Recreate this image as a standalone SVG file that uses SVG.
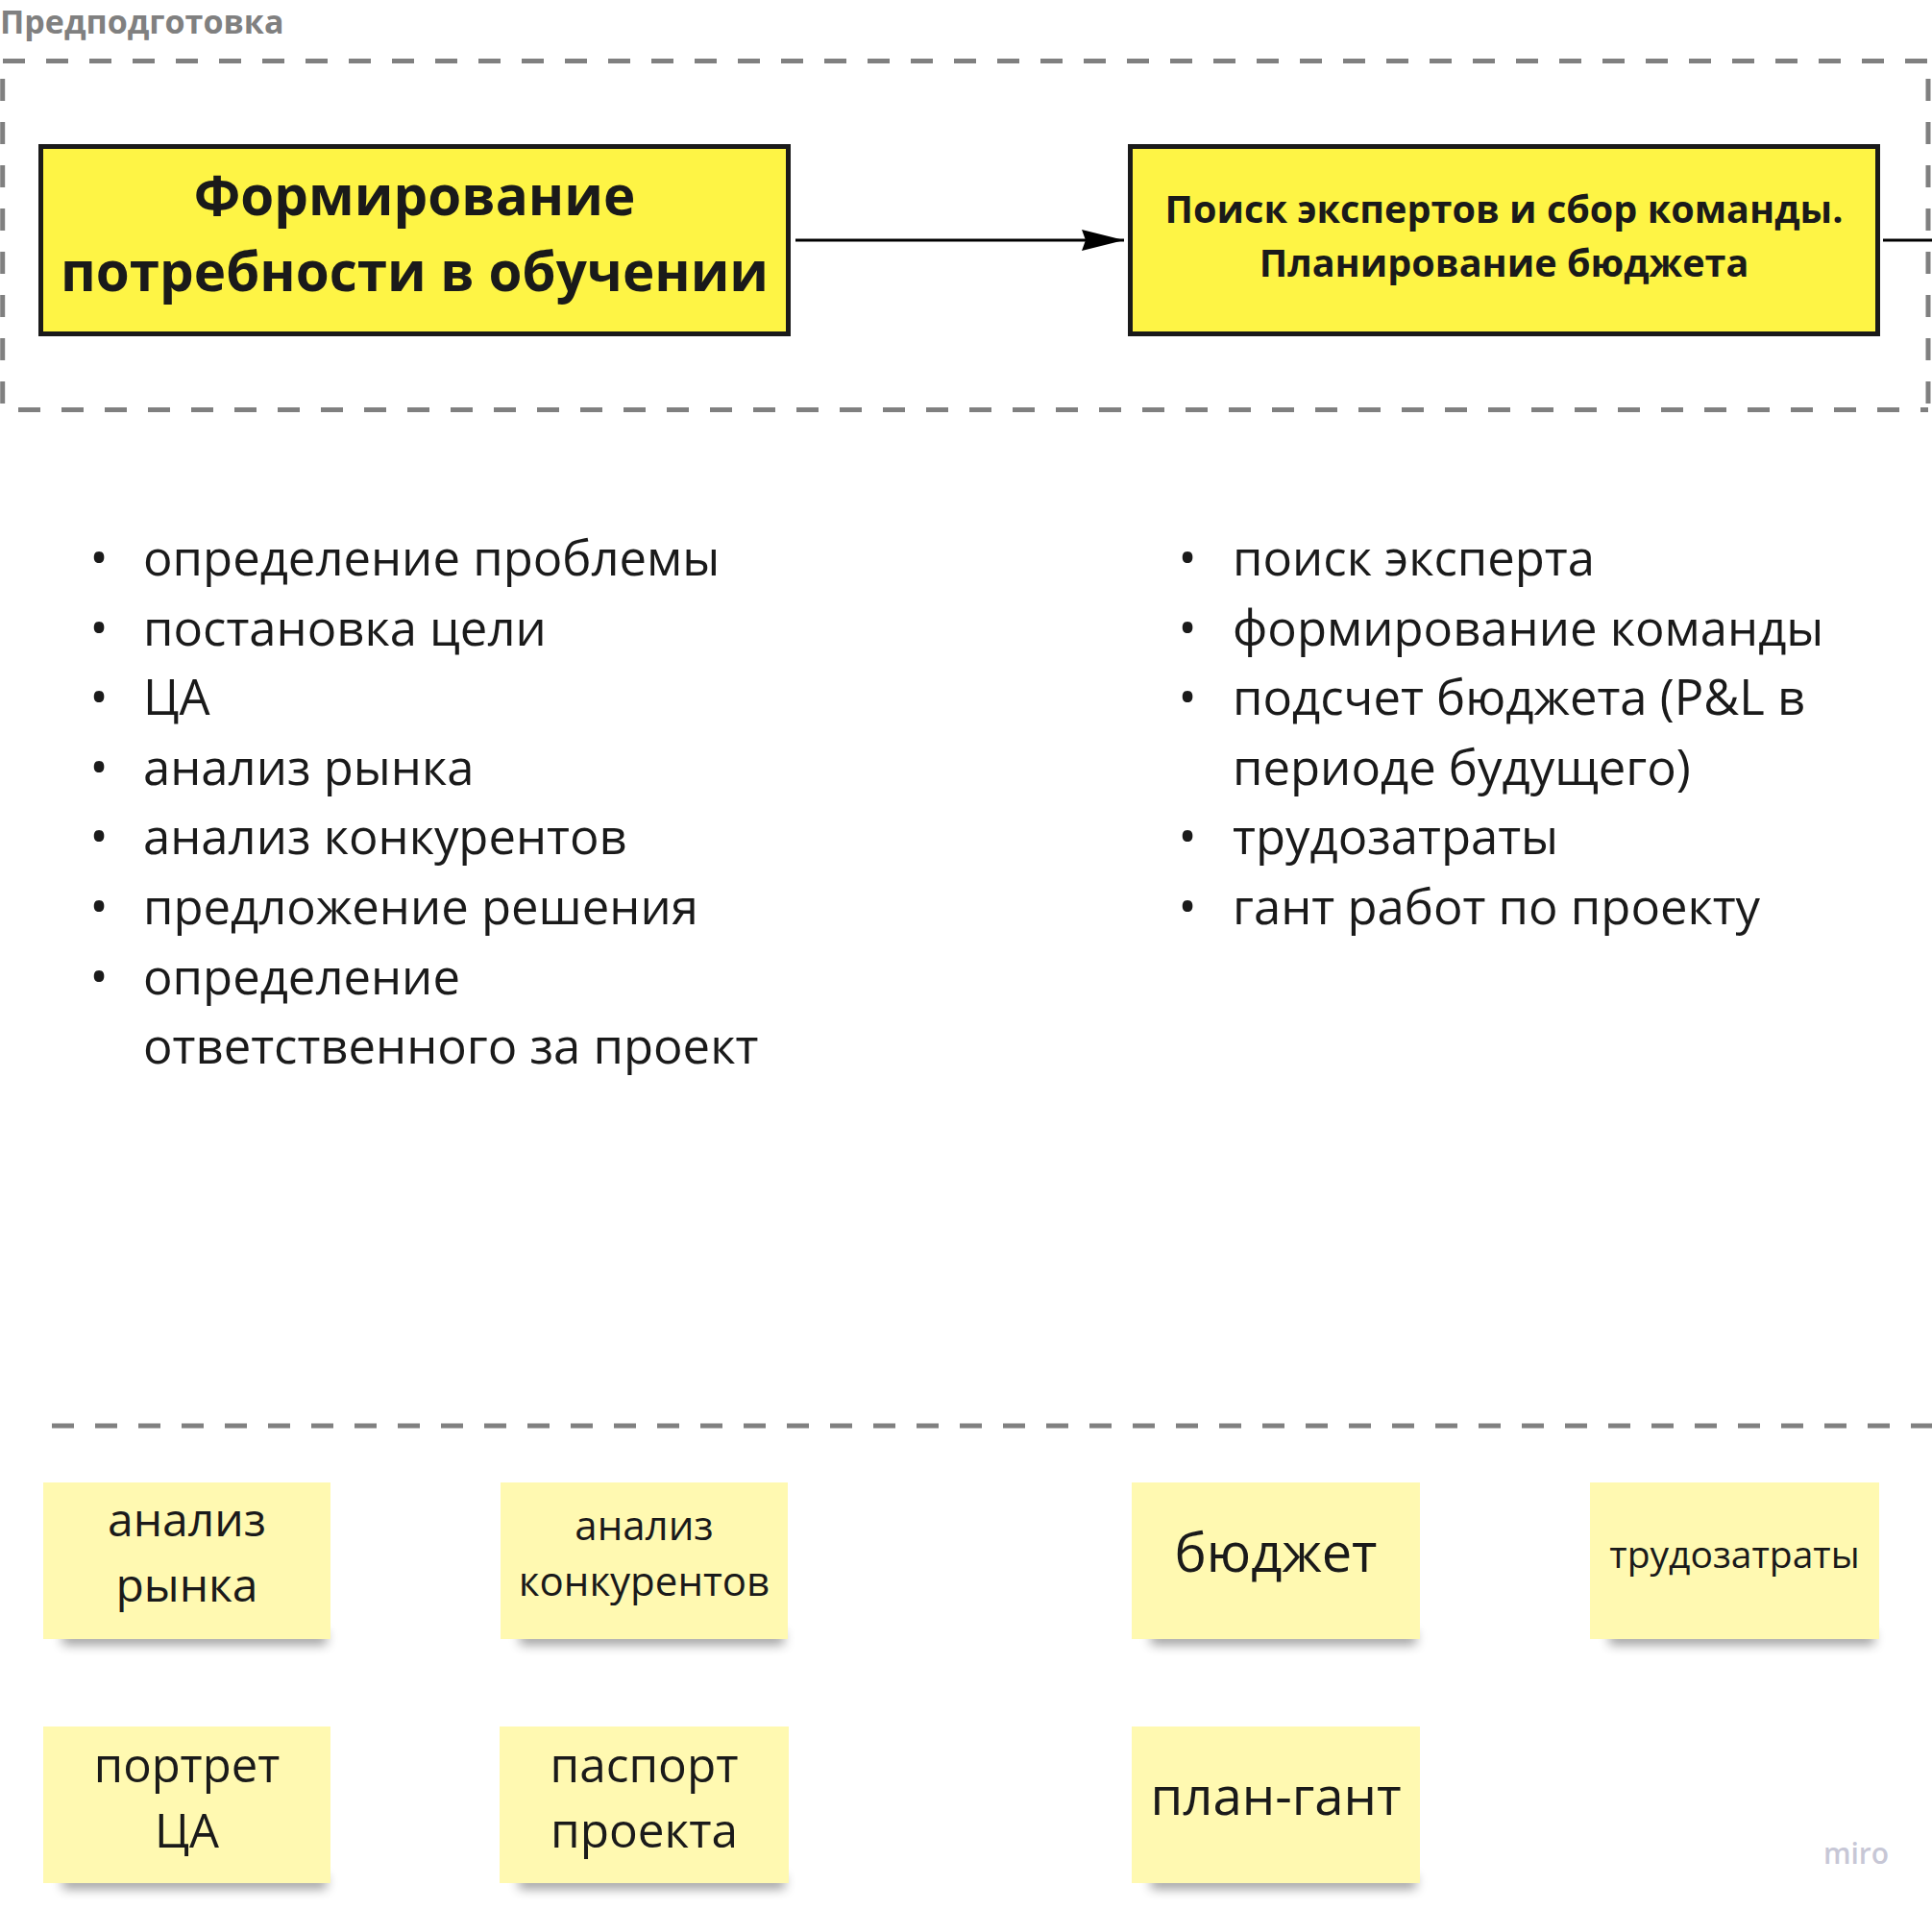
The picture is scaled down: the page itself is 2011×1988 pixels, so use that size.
<svg xmlns="http://www.w3.org/2000/svg" width="2011" height="1988" viewBox="0 0 2011 1988">
<style>
text{font-family:"Open Sans","Noto Sans","Liberation Sans",sans-serif;fill:#1a1a1a}
.dash{fill:none;stroke:#808080;stroke-width:5;stroke-dasharray:23 22}
.box{fill:#fef445;stroke:#1a1a1a;stroke-width:5}
.bold{font-weight:700}
.list{font-size:50.8px}
.note{fill:#fff9b1}
.shadow{fill:#000;opacity:.38}
.conn{stroke:#000;stroke-width:3;fill:none}
</style>
<defs>
<filter id="blur" x="-20%" y="-200%" width="140%" height="500%"><feGaussianBlur stdDeviation="6"/></filter>
<marker id="ah" markerUnits="userSpaceOnUse" markerWidth="46" markerHeight="26" refX="44" refY="13" orient="auto"><path d="M0,2 L44,13 L0,24 L4,13 Z" fill="#000"/></marker>
</defs>
<rect width="2011" height="1988" fill="#fff"/>

<g id="frame-predpodgotovka">
<text x="0" y="35" class="bold" font-size="34" style="fill:#808080">Предподготовка</text>
<line class="dash" x1="3" y1="63.5" x2="2007" y2="63.5"/>
<line class="dash" x1="2.7" y1="82" x2="2.7" y2="426"/>
<line class="dash" x1="19" y1="426.5" x2="2007" y2="426.5"/>
<line class="dash" x1="2007" y1="82" x2="2007" y2="426"/>
</g>

<g id="connectors">
<line class="conn" x1="828" y1="250" x2="1170" y2="250" marker-end="url(#ah)"/>
<line class="conn" x1="1960" y1="250" x2="2011" y2="250"/>
</g>

<g id="node-formirovanie">
<rect class="box" x="42.5" y="152.5" width="778" height="195"/>
<text class="bold" font-size="56.5" text-anchor="middle" x="431.5" y="224">Формирование</text>
<text class="bold" font-size="56.5" text-anchor="middle" x="431.5" y="303">потребности в обучении</text>
</g>

<g id="node-poisk">
<rect class="box" x="1176.5" y="152.5" width="778" height="195"/>
<text class="bold" font-size="39.6" text-anchor="middle" x="1565.5" y="232">Поиск экспертов и сбор команды.</text>
<text class="bold" font-size="39.6" text-anchor="middle" x="1565.5" y="288">Планирование бюджета</text>
</g>

<g id="list-left" class="list">
<text x="103" y="599" text-anchor="middle">•</text><text x="149" y="599">определение проблемы</text>
<text x="103" y="672" text-anchor="middle">•</text><text x="149" y="672">постановка цели</text>
<text x="103" y="744" text-anchor="middle">•</text><text x="149" y="744">ЦА</text>
<text x="103" y="817" text-anchor="middle">•</text><text x="149" y="817">анализ рынка</text>
<text x="103" y="889" text-anchor="middle">•</text><text x="149" y="889">анализ конкурентов</text>
<text x="103" y="962" text-anchor="middle">•</text><text x="149" y="962">предложение решения</text>
<text x="103" y="1035" text-anchor="middle">•</text><text x="149" y="1035">определение</text>
<text x="149" y="1107">ответственного за проект</text>
</g>

<g id="list-right" class="list">
<text x="1236" y="599" text-anchor="middle">•</text><text x="1283" y="599">поиск эксперта</text>
<text x="1236" y="672" text-anchor="middle">•</text><text x="1283" y="672">формирование команды</text>
<text x="1236" y="744" text-anchor="middle">•</text><text x="1283" y="744">подсчет бюджета (P&amp;L в</text>
<text x="1283" y="817">периоде будущего)</text>
<text x="1236" y="889" text-anchor="middle">•</text><text x="1283" y="889">трудозатраты</text>
<text x="1236" y="962" text-anchor="middle">•</text><text x="1283" y="962">гант работ по проекту</text>
</g>

<g id="divider">
<line class="dash" x1="54" y1="1484" x2="2011" y2="1484"/>
</g>

<g id="note-analiz-rynka">
<rect class="shadow" x="65" y="1698" width="275" height="14" filter="url(#blur)"/>
<rect class="note" x="45" y="1543" width="299" height="163"/>
<text font-size="48" text-anchor="middle" x="194.5" y="1599">анализ</text>
<text font-size="48" text-anchor="middle" x="194.5" y="1667">рынка</text>
</g>

<g id="note-analiz-konkurentov">
<rect class="shadow" x="541" y="1698" width="275" height="14" filter="url(#blur)"/>
<rect class="note" x="521" y="1543" width="299" height="163"/>
<text font-size="42" text-anchor="middle" x="670.5" y="1603">анализ</text>
<text font-size="42" text-anchor="middle" x="670.5" y="1661">конкурентов</text>
</g>

<g id="note-portret-ca">
<rect class="shadow" x="65" y="1952" width="275" height="14" filter="url(#blur)"/>
<rect class="note" x="45" y="1797" width="299" height="163"/>
<text font-size="49" text-anchor="middle" x="194.5" y="1855">портрет</text>
<text font-size="49" text-anchor="middle" x="194.5" y="1923">ЦА</text>
</g>

<g id="note-pasport-proekta">
<rect class="shadow" x="540" y="1952" width="277" height="14" filter="url(#blur)"/>
<rect class="note" x="520" y="1797" width="301" height="163"/>
<text font-size="49.5" text-anchor="middle" x="670.5" y="1855">паспорт</text>
<text font-size="49.5" text-anchor="middle" x="670.5" y="1923">проекта</text>
</g>

<g id="note-budzhet">
<rect class="shadow" x="1198" y="1698" width="276" height="14" filter="url(#blur)"/>
<rect class="note" x="1178" y="1543" width="300" height="163"/>
<text font-size="56" text-anchor="middle" x="1328" y="1636">бюджет</text>
</g>

<g id="note-trudozatraty">
<rect class="shadow" x="1675" y="1698" width="276" height="14" filter="url(#blur)"/>
<rect class="note" x="1655" y="1543" width="301" height="163"/>
<text font-size="39" text-anchor="middle" x="1805.5" y="1632">трудозатраты</text>
</g>

<g id="note-plan-gant">
<rect class="shadow" x="1198" y="1952" width="276" height="14" filter="url(#blur)"/>
<rect class="note" x="1178" y="1797" width="300" height="163"/>
<text font-size="54.5" text-anchor="middle" x="1328" y="1889">план-гант</text>
</g>

<text x="1932" y="1940" font-size="30" font-weight="600" text-anchor="middle" style="fill:#c7c7d6">miro</text>
</svg>
